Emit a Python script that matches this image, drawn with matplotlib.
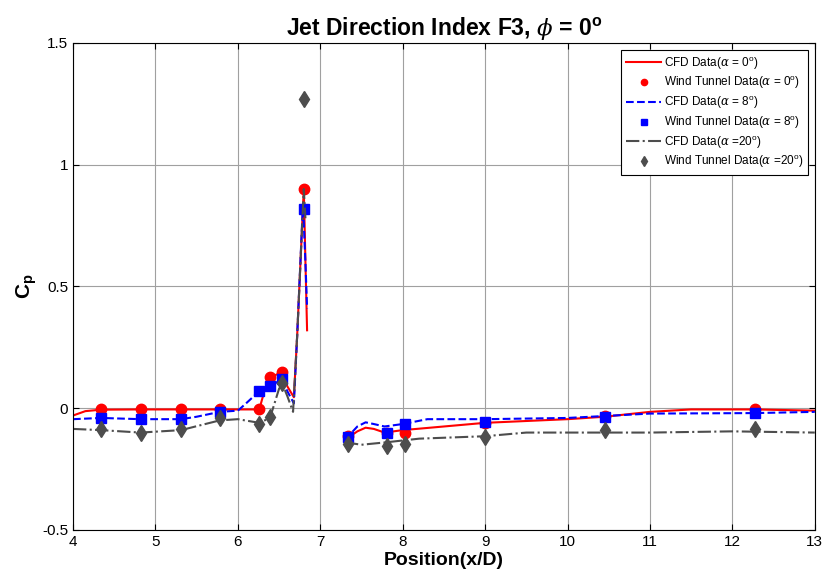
import matplotlib
matplotlib.use("Agg")
import matplotlib.pyplot as plt
from matplotlib.ticker import FuncFormatter

plt.rcParams["font.family"] = ["Liberation Sans", "DejaVu Sans"]
plt.rcParams["mathtext.fontset"] = "custom"
plt.rcParams["mathtext.rm"] = "Liberation Sans"
plt.rcParams["mathtext.bf"] = "Liberation Sans:bold"
plt.rcParams["mathtext.it"] = "DejaVu Serif:italic"

# wind tunnel tap positions (x/D)
x_wt = [4.34, 4.82, 5.31, 5.78, 6.26, 6.39, 6.54, 6.80, 7.34, 7.81, 8.03, 9.00, 10.45, 12.27]
cp_wt_a0 = [-0.005, -0.005, -0.005, -0.005, -0.005, 0.127, 0.15, 0.90, -0.115, -0.10, -0.10, -0.06, -0.03, -0.005]
cp_wt_a8 = [-0.04, -0.045, -0.045, -0.015, 0.07, 0.09, 0.12, 0.82, -0.12, -0.10, -0.065, -0.055, -0.035, -0.02]
cp_wt_a20 = [-0.085, -0.10, -0.085, -0.04, -0.065, -0.035, 0.105, 1.27, -0.145, -0.155, -0.145, -0.12, -0.09, -0.085]

# CFD curves, upstream segment
x_cfd1_a0 = [4.0, 4.15, 4.34, 4.82, 5.31, 5.78, 6.0, 6.26, 6.33, 6.39, 6.54, 6.6, 6.68, 6.72, 6.80, 6.82, 6.84]
cp_cfd1_a0 = [-0.03, -0.012, -0.006, -0.005, -0.005, -0.005, -0.005, -0.005, 0.08, 0.125, 0.15, 0.09, 0.045, 0.3, 0.90, 0.6, 0.32]
x_cfd1_a8 = [4.0, 4.34, 4.82, 5.31, 5.5, 5.78, 6.0, 6.1, 6.26, 6.39, 6.54, 6.6, 6.68, 6.72, 6.79, 6.82, 6.84]
cp_cfd1_a8 = [-0.045, -0.04, -0.045, -0.045, -0.035, -0.015, -0.01, 0.02, 0.07, 0.09, 0.12, 0.07, 0.02, 0.3, 0.84, 0.6, 0.41]
x_cfd1_a20 = [4.0, 4.34, 4.82, 5.31, 5.78, 6.0, 6.26, 6.39, 6.5, 6.54, 6.6, 6.67, 6.72, 6.80, 6.82]
cp_cfd1_a20 = [-0.085, -0.09, -0.10, -0.09, -0.05, -0.045, -0.06, -0.04, 0.08, 0.10, 0.05, -0.015, 0.3, 0.90, 0.78]

# CFD curves, downstream segment
x_cfd2_a0 = [7.3, 7.45, 7.55, 7.65, 7.78, 8.0, 8.5, 9.0, 10.0, 10.45, 11.0, 11.5, 12.27, 13.0]
cp_cfd2_a0 = [-0.13, -0.095, -0.08, -0.085, -0.10, -0.09, -0.075, -0.06, -0.045, -0.035, -0.015, -0.005, -0.005, -0.01]
x_cfd2_a8 = [7.3, 7.45, 7.55, 7.65, 7.78, 8.0, 8.3, 9.0, 10.0, 10.45, 11.0, 12.27, 13.0]
cp_cfd2_a8 = [-0.13, -0.075, -0.058, -0.065, -0.075, -0.065, -0.045, -0.045, -0.04, -0.032, -0.022, -0.02, -0.015]
x_cfd2_a20 = [7.3, 7.5, 7.8, 8.2, 9.0, 9.5, 10.5, 11.0, 12.0, 13.0]
cp_cfd2_a20 = [-0.14, -0.15, -0.14, -0.125, -0.115, -0.10, -0.10, -0.10, -0.095, -0.10]

red = "#ff0000"
blue = "#0000ff"
grey = "#4d4d4d"

fig = plt.figure(figsize=(8.26, 5.84), dpi=100)
ax = fig.add_axes([0.0884, 0.0925, 0.898, 0.834])

ax.plot(x_cfd1_a0, cp_cfd1_a0, color=red, lw=1.5, label=r"CFD Data($\alpha$ = 0$^{\rm o}$)")
ax.plot(x_cfd2_a0, cp_cfd2_a0, color=red, lw=1.5)
ax.plot(x_wt, cp_wt_a0, "o", color=red, ms=7.5, label=r"Wind Tunnel Data($\alpha$ = 0$^{\rm o}$)")
ax.plot(x_cfd1_a8, cp_cfd1_a8, "--", color=blue, lw=1.5, label=r"CFD Data($\alpha$ = 8$^{\rm o}$)")
ax.plot(x_cfd2_a8, cp_cfd2_a8, "--", color=blue, lw=1.5)
ax.plot(x_wt, cp_wt_a8, "s", color=blue, ms=6.5, label=r"Wind Tunnel Data($\alpha$ = 8$^{\rm o}$)")
ax.plot(x_cfd1_a20, cp_cfd1_a20, "-.", color=grey, lw=1.5, label=r"CFD Data($\alpha$ =20$^{\rm o}$)")
ax.plot(x_cfd2_a20, cp_cfd2_a20, "-.", color=grey, lw=1.5)
ax.plot(x_wt, cp_wt_a20, "d", color=grey, ms=8, label=r"Wind Tunnel Data($\alpha$ =20$^{\rm o}$)")

ax.set_xlim(4, 13)
ax.set_ylim(-0.5, 1.5)
ax.set_xticks(range(4, 14))
ax.set_yticks([-0.5, 0, 0.5, 1, 1.5])
ax.yaxis.set_major_formatter(FuncFormatter(lambda v, _: f"{v:g}"))
ax.tick_params(direction="in", labelsize=11, length=4, top=True, right=True)
ax.grid(True, color="#a0a0a0", lw=0.8)
for s in ax.spines.values():
    s.set_linewidth(0.8)

ax.set_xlabel("Position(x/D)", fontsize=14, fontweight="bold", labelpad=2)
ax.set_ylabel(r"$\mathbf{C_p}$", fontsize=15)
ax.yaxis.set_label_coords(-0.046, 0.5)
ax.set_title(r"Jet Direction Index F3, $\phi$ = 0$^{\mathbf{o}}$", fontsize=16.5, fontweight="bold", pad=6)

leg = ax.legend(loc="upper right", fontsize=8.5, fancybox=False, edgecolor="black",
                framealpha=1, handlelength=3, borderaxespad=0.6, labelspacing=0.25,
                markerscale=0.6, borderpad=0.4, handletextpad=0.2)
leg.get_frame().set_linewidth(0.8)

fig.savefig("out.png", dpi=100)
